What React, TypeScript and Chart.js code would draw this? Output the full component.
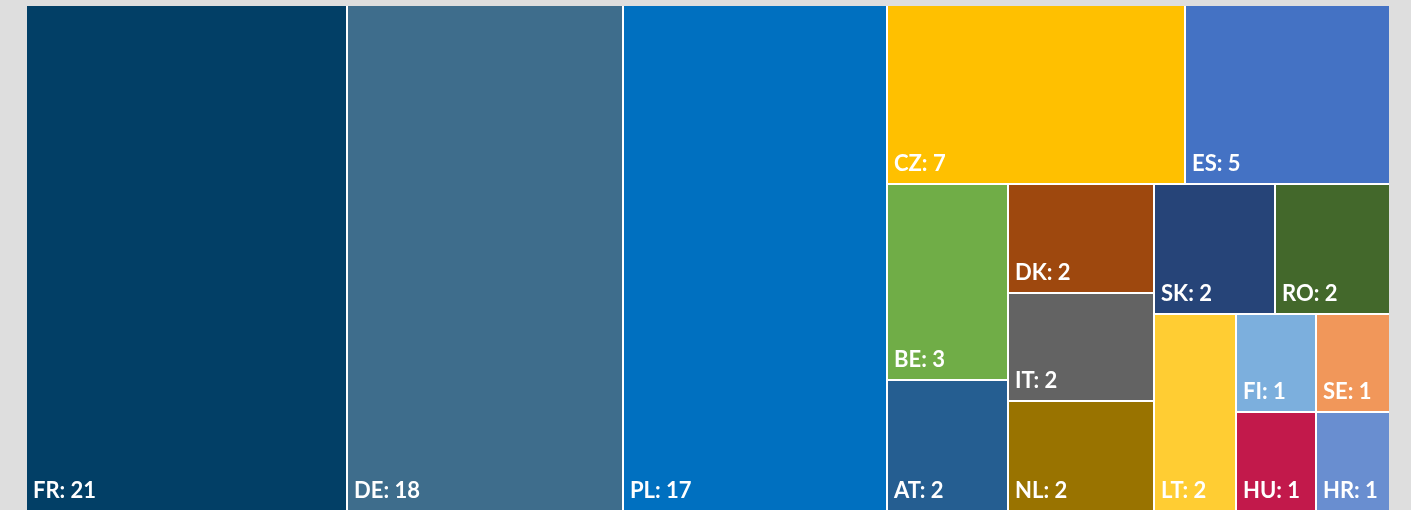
import React, { useEffect, useRef } from "react";
import { Chart, registerables } from "chart.js";

Chart.register(...registerables);

// ---- data ----
const countries = ["FR", "DE", "PL", "CZ", "ES", "BE", "AT", "DK", "IT", "NL", "SK", "RO", "LT", "FI", "SE", "HU", "HR"];
const values = [20.9, 18.1, 17.2, 6.9, 4.7, 3.1, 2.05, 2.05, 2.05, 2.05, 2.05, 1.92, 2.08, 1.02, 0.93, 1.02, 0.93];
const colors = [
  "#023F66", "#3E6D8C", "#0070C0", "#FFC000", "#4472C4", "#70AD47", "#255E91", "#9E480E", "#636363",
  "#997300", "#264478", "#43682B", "#FFCD33", "#7CAFDD", "#F1975A", "#C2194B", "#698ED0",
];

// ---- squarified treemap layout ----
type Box = { x: number; y: number; w: number; h: number };
const MAX_SPREAD = 1.75; // a strip only holds items of similar size

function sum(a: number[]) {
  return a.reduce((s, v) => s + v, 0);
}

function worst(areas: number[], side: number) {
  const s = sum(areas);
  const mx = Math.max(...areas);
  const mn = Math.min(...areas);
  const s2 = s * s;
  const side2 = side * side;
  return Math.max((side2 * mx) / s2, s2 / (side2 * mn));
}

function squarify(vals: number[], box: Box): Box[] {
  const total = sum(vals);
  const k = (box.w * box.h) / total;
  const areas = vals.map((v) => v * k);
  const out: Box[] = [];
  let r = { ...box };
  let i = 0;
  while (i < vals.length) {
    const vertical = r.w >= r.h;
    const side = vertical ? r.h : r.w;
    let j = i + 1;
    let best = worst(areas.slice(i, j), side);
    while (j < vals.length) {
      if (vals[i] / vals[j] >= MAX_SPREAD) break;
      const cand = worst(areas.slice(i, j + 1), side);
      if (cand > best) break;
      best = cand;
      j++;
    }
    const row = areas.slice(i, j);
    const rowArea = sum(row);
    if (vertical) {
      const t = rowArea / r.h;
      let y = r.y;
      row.forEach((a) => {
        const h = a / t;
        out.push({ x: r.x, y, w: t, h });
        y += h;
      });
      r = { x: r.x + t, y: r.y, w: r.w - t, h: r.h };
    } else {
      const t = rowArea / r.w;
      let x = r.x;
      row.forEach((a) => {
        const w = a / t;
        out.push({ x, y: r.y, w, h: t });
        x += w;
      });
      r = { x: r.x, y: r.y + t, w: r.w, h: r.h - t };
    }
    i = j;
  }
  return out;
}

const treemapPlugin = {
  id: "treemapCells",
  beforeDraw(chart: any) {
    const { ctx, width, height, chartArea: a } = chart;
    ctx.save();
    ctx.fillStyle = "#DEDEDE";
    ctx.fillRect(0, 0, width, height);
    ctx.fillStyle = "#FFFFFF";
    ctx.fillRect(a.left, a.top, a.right - a.left, a.bottom - a.top);
    ctx.restore();
  },
  afterDatasetsDraw(chart: any) {
    const { ctx, chartArea: a } = chart;
    const xs = chart.scales.x;
    const ys = chart.scales.y;
    const ds = chart.data.datasets[0];
    const vals = ds.data as number[];
    const labels = chart.data.labels as string[];
    const fills = ds.backgroundColor as string[];
    const pxW = Math.abs(xs.getPixelForValue(1) - xs.getPixelForValue(0));
    const pxH = Math.abs(ys.getPixelForValue(1) - ys.getPixelForValue(0));
    const boxes = squarify(vals, { x: 0, y: 0, w: pxW, h: pxH });
    ctx.save();
    boxes.forEach((b, i) => {
      let left = Math.round(xs.getPixelForValue(b.x / pxW));
      let right = Math.round(xs.getPixelForValue((b.x + b.w) / pxW));
      let top = Math.round(ys.getPixelForValue(b.y / pxH));
      let bottom = Math.round(ys.getPixelForValue((b.y + b.h) / pxH));
      if (left > a.left + 0.5) left += 1;
      if (right < a.right - 0.5) right -= 1;
      if (top > a.top + 0.5) top += 1;
      if (bottom < a.bottom - 0.5) bottom -= 1;
      ctx.fillStyle = fills[i];
      ctx.fillRect(left, top, right - left, bottom - top);
      ctx.fillStyle = "#FFFFFF";
      ctx.font = "bold 22px Lato, 'Open Sans', sans-serif";
      ctx.textAlign = "left";
      ctx.textBaseline = "alphabetic";
      ctx.fillText(`${labels[i]}: ${vals[i].toFixed(0)}`, left + 6, bottom - 12);
    });
    ctx.restore();
  },
};

export default function App() {
  const canvasRef = useRef<HTMLCanvasElement | null>(null);

  useEffect(() => {
    document.body.style.margin = "0";
    let chart: Chart | null = null;
    let cancelled = false;
    const make = () => {
      if (cancelled || !canvasRef.current) return;
      chart = new Chart(canvasRef.current, {
        type: "scatter",
        data: {
          labels: countries,
          datasets: [
            {
              label: "Countries",
              data: values as any,
              backgroundColor: colors as any,
              pointRadius: 0,
              showLine: false,
            },
          ],
        },
        options: {
          animation: false,
          responsive: false,
          devicePixelRatio: 1,
          layout: { padding: { left: 27, top: 6, right: 22, bottom: 0 } },
          plugins: { legend: { display: false }, tooltip: { enabled: false }, title: { display: false } },
          scales: {
            x: { type: "linear", min: 0, max: 1, display: false },
            y: { type: "linear", min: 0, max: 1, reverse: true, display: false },
          },
        },
        plugins: [treemapPlugin],
      });
    };
    const fontsApi = (document as any).fonts;
    if (fontsApi && fontsApi.load) {
      fontsApi.load("bold 22px Lato").then(make, make);
    } else {
      make();
    }
    return () => {
      cancelled = true;
      if (chart) chart.destroy();
    };
  }, []);

  return (
    <div style={{ width: 1417, height: 510, background: "#FFFFFF" }}>
      <canvas ref={canvasRef} width={1411} height={510} style={{ display: "block" }} />
    </div>
  );
}
